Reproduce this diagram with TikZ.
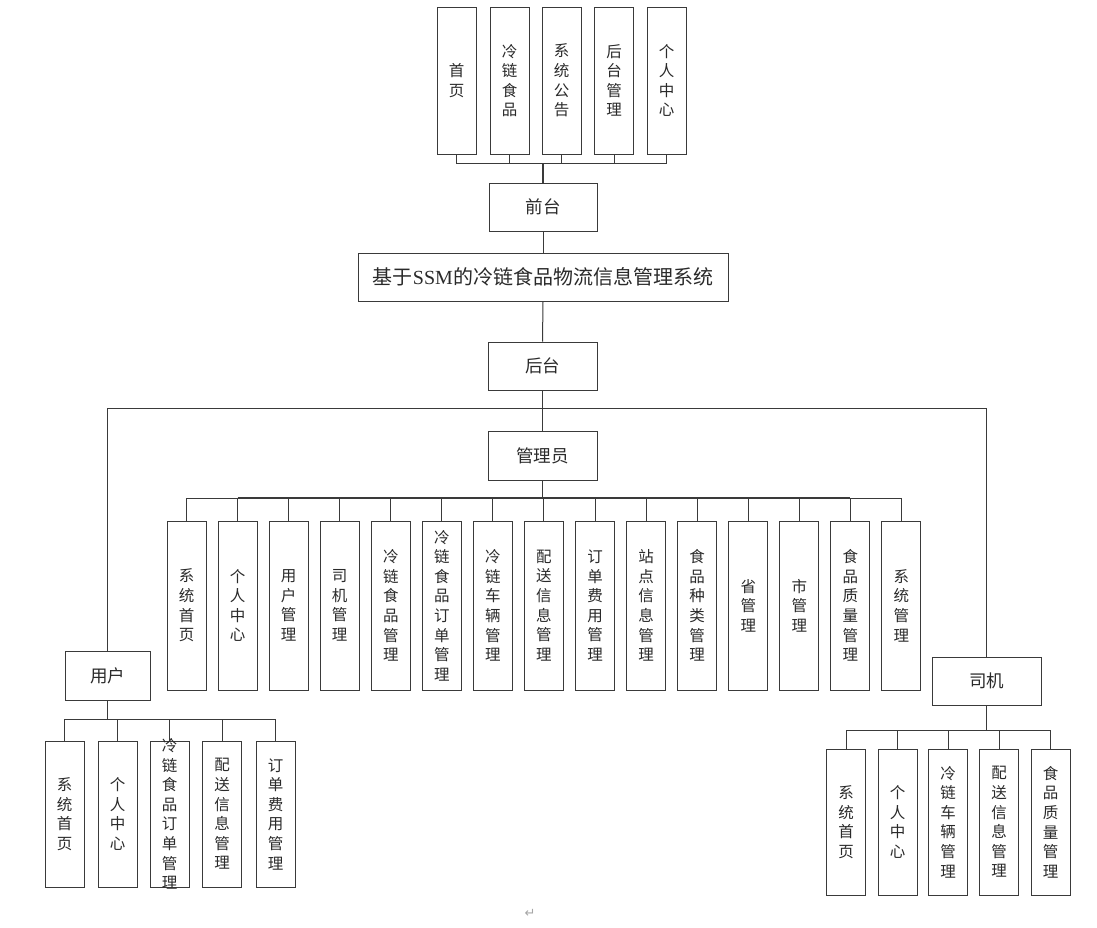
\documentclass[tikz,border=0pt]{standalone}
\usepackage{fontspec}
\setmainfont{Noto Sans CJK SC}
\newfontfamily\latinserif{Liberation Serif}
\newfontfamily\dejavu{DejaVu Sans}
\begin{document}
\begin{tikzpicture}[x=1pt,y=-1pt,
  ln/.style={draw=lnc,line width=1pt},
  thk/.style={draw=lnc,line width=1.6pt},
  vbox/.style={draw=lnc,line width=1pt,minimum width=39pt,inner sep=0pt},
  vtext/.style={align=center,inner sep=0pt,text=txc,font=\fontsize{15.5}{19.6}\selectfont},
  mbox/.style={draw=lnc,line width=1pt,minimum height=48pt,inner sep=0pt,text=txc,font=\fontsize{17.5}{20}\selectfont}
]
\definecolor{lnc}{HTML}{3A3A3A}
\definecolor{txc}{HTML}{2A2A2A}
\useasboundingbox (0,0) rectangle (1097,927);
\fill[white] (0,0) rectangle (1097,927);

% ---------- top ----------
\foreach \n/\x in {t1/456.5,t2/509.5,t3/561.5,t4/614,t5/666.5}{
  \node[vbox,minimum height=147pt] (\n) at (\x,80.5) {};
}
\node[vtext] (t1t) at (t1) {首\\页};
\node[vtext] (t2t) at (t2) {冷\\链\\食\\品};
\node[vtext] (t3t) at (t3) {系\\统\\公\\告};
\node[vtext] (t4t) at (t4) {后\\台\\管\\理};
\node[vtext] (t5t) at (t5) {个\\人\\中\\心};

\node[mbox,minimum width=108pt] (front) at (543,207) {前台};
\node[draw=lnc,line width=1pt,minimum width=370pt,minimum height=48pt,inner sep=0pt,text=txc,font=\fontsize{20}{22}\selectfont] (main) at (543,277) {基于{\latinserif SSM}的冷链食品物流信息管理系统};
\node[mbox,minimum width=109pt] (back) at (542.5,366) {后台};
\node[mbox,minimum width=109pt,minimum height=49pt] (admin) at (542.5,455.5) {管理员};
\node[mbox,minimum width=85pt,minimum height=49pt] (user) at (107.5,675.5) {用户};
\node[mbox,minimum width=109pt] (driver) at (986.5,681) {司机};

\coordinate (busT) at (543,163);
\foreach \n in {t1,t2,t3,t4,t5}{ \draw[ln] (\n.south) |- (busT); }
\draw[thk] (front.north) -- (busT);
\draw[ln] (front.south) -- (main.north);
\draw[ln] (main.south) -- (back.north);
\draw[thk] (back.south) -- (admin.north);
\coordinate (busW) at (542.5,408.5);
\draw[ln] (user.north) |- (busW) -| (driver.north);

% ---------- admin ----------
\foreach \i/\n in {0/a1,1/a2,2/a3,3/a4,4/a5,5/a6,6/a7,7/a8,8/a9,9/a10,10/a11,11/a12,12/a13,13/a14,14/a15}{
  \node[vbox,minimum height=169pt] (\n) at ({186.5+51.07*\i},605.5) {};
}
\node[vtext] (a1t) at (a1) {系\\统\\首\\页};
\node[vtext] (a2t) at (a2) {个\\人\\中\\心};
\node[vtext] (a3t) at (a3) {用\\户\\管\\理};
\node[vtext] (a4t) at (a4) {司\\机\\管\\理};
\node[vtext] (a5t) at (a5) {冷\\链\\食\\品\\管\\理};
\node[vtext] (a6t) at (a6) {冷\\链\\食\\品\\订\\单\\管\\理};
\node[vtext] (a7t) at (a7) {冷\\链\\车\\辆\\管\\理};
\node[vtext] (a8t) at (a8) {配\\送\\信\\息\\管\\理};
\node[vtext] (a9t) at (a9) {订\\单\\费\\用\\管\\理};
\node[vtext] (a10t) at (a10) {站\\点\\信\\息\\管\\理};
\node[vtext] (a11t) at (a11) {食\\品\\种\\类\\管\\理};
\node[vtext] (a12t) at (a12) {省\\管\\理};
\node[vtext] (a13t) at (a13) {市\\管\\理};
\node[vtext] (a14t) at (a14) {食\\品\\质\\量\\管\\理};
\node[vtext] (a15t) at (a15) {系\\统\\管\\理};
\coordinate (busA) at (542.5,498);
\foreach \n in {a1,a2,a3,a4,a5,a6,a7,a8,a9,a10,a11,a12,a13,a14,a15}{ \draw[ln] (\n.north) |- (busA); }
\draw[thk] (admin.south) -- (busA);
\draw[thk] (a2.north |- busA) -- (a14.north |- busA);

% ---------- user ----------
\foreach \n/\x in {u1/64.5,u2/117.5,u3/169.5,u4/222,u5/275.5}{
  \node[vbox,minimum height=146pt] (\n) at (\x,814) {};
}
\node[vtext] (u1t) at (u1) {系\\统\\首\\页};
\node[vtext] (u2t) at (u2) {个\\人\\中\\心};
\node[vtext] (u3t) at (u3) {冷\\链\\食\\品\\订\\单\\管\\理};
\node[vtext] (u4t) at (u4) {配\\送\\信\\息\\管\\理};
\node[vtext] (u5t) at (u5) {订\\单\\费\\用\\管\\理};
\coordinate (busU) at (107.5,719);
\foreach \n in {u1,u2,u3,u4,u5}{ \draw[ln] (\n.north) |- (busU); }
\draw[thk] (user.south) -- (busU);

% ---------- driver ----------
\foreach \n/\x in {d1/846,d2/897.5,d3/948,d4/999,d5/1050.5}{
  \node[vbox,minimum height=146pt] (\n) at (\x,822) {};
}
\node[vtext] (d1t) at (d1) {系\\统\\首\\页};
\node[vtext] (d2t) at (d2) {个\\人\\中\\心};
\node[vtext] (d3t) at (d3) {冷\\链\\车\\辆\\管\\理};
\node[vtext] (d4t) at (d4) {配\\送\\信\\息\\管\\理};
\node[vtext] (d5t) at (d5) {食\\品\\质\\量\\管\\理};
\coordinate (busD) at (986.5,730);
\foreach \n in {d1,d2,d3,d4,d5}{ \draw[ln] (\n.north) |- (busD); }
\draw[ln] (driver.south) -- (busD);

\node[text=gray!70,font=\dejavu\fontsize{13}{13}\selectfont,inner sep=0pt] (ret) at (530,913) {↵};
\end{tikzpicture}
\end{document}
